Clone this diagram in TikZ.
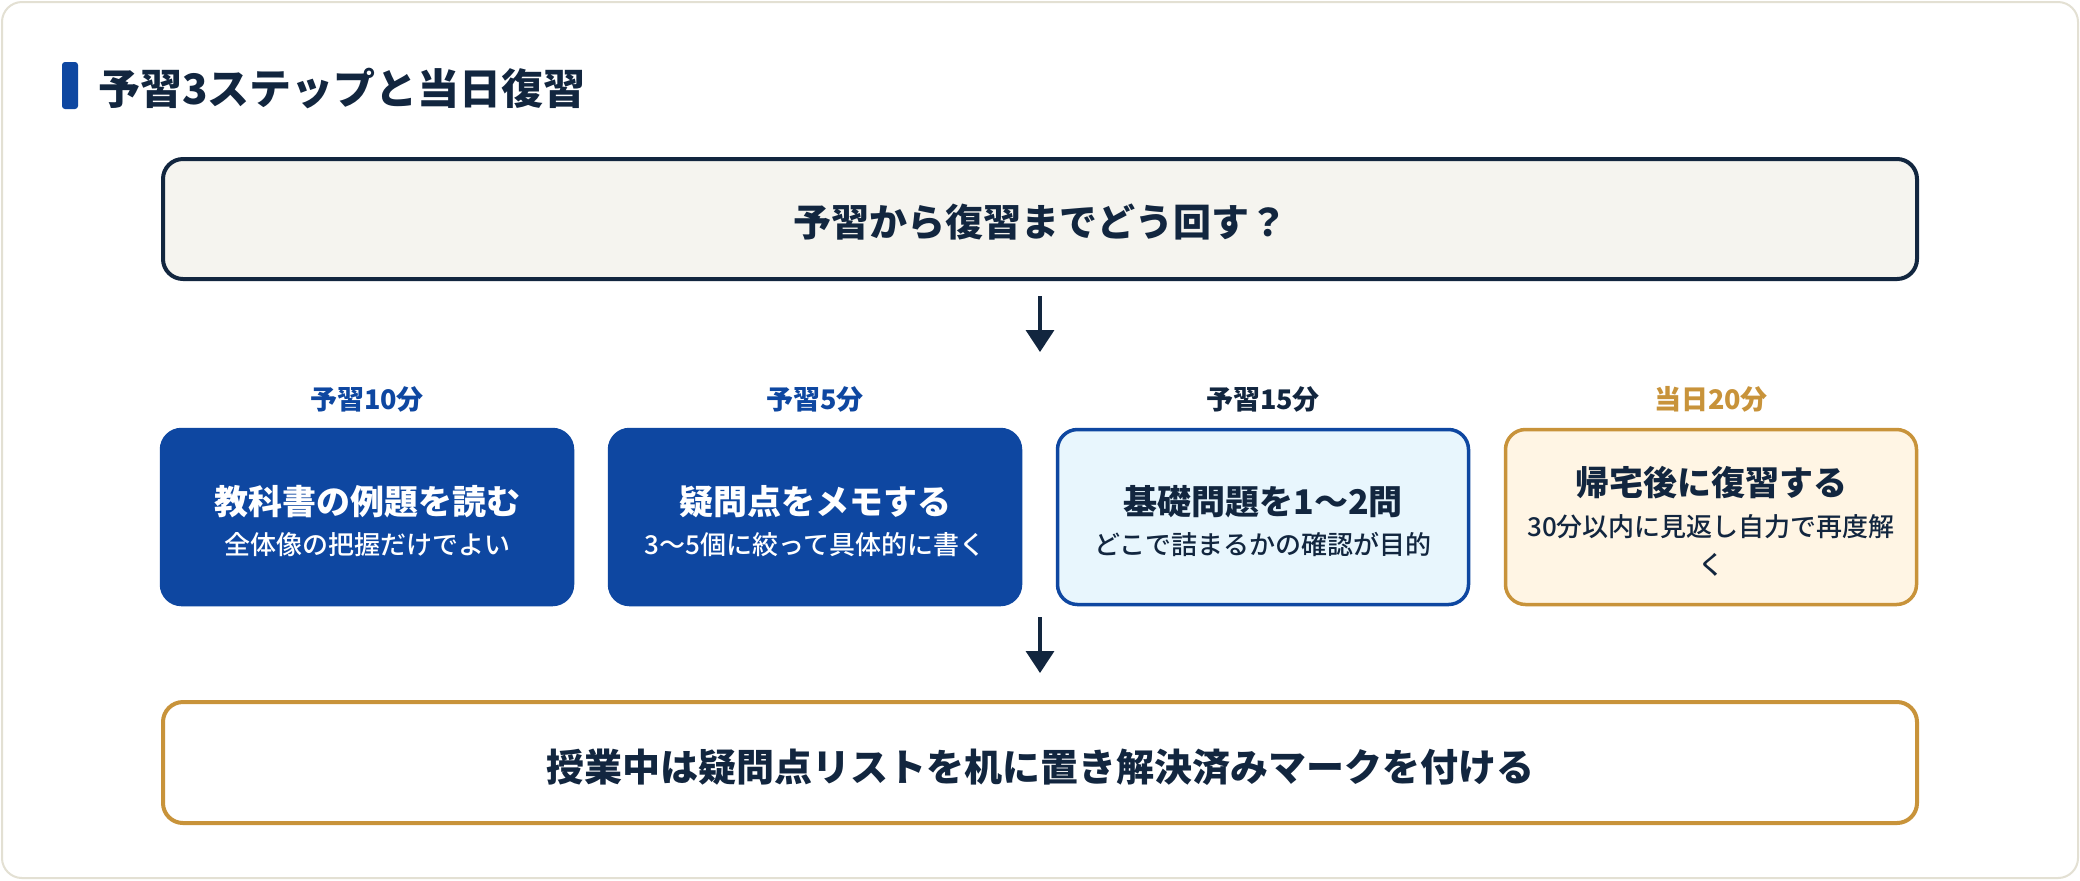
\documentclass[tikz,border=0pt]{standalone}
\usepackage{fontspec}
\setmainfont{Noto Sans CJK JP}
\IfFontExistsTF{Noto Sans CJK JP Medium}{\newfontfamily\subfont{Noto Sans CJK JP Medium}}{\newfontfamily\subfont{Noto Sans CJK JP}}
\usetikzlibrary{arrows.meta}
\definecolor{navy}{HTML}{12263F}
\definecolor{mblue}{HTML}{0E47A1}
\definecolor{gold}{HTML}{C8933A}
\definecolor{cream}{HTML}{FFF5E4}
\definecolor{lblue}{HTML}{E8F6FD}
\definecolor{topfill}{HTML}{F5F4EF}
\definecolor{cardline}{HTML}{E3E0D3}
\tikzset{
  x=0.5pt, y=-0.5pt,
  stepbox/.style={rounded corners=10pt, minimum width=205.5pt, minimum height=87.5pt, inner sep=0pt, line width=1.75pt},
  wide/.style={rounded corners=10pt, minimum width=877pt, inner sep=0pt, line width=2pt},
  big/.style={anchor=base, inner sep=0pt, font=\fontsize{19pt}{22pt}\selectfont\bfseries, text=navy},
  lbl/.style={anchor=base, inner sep=0pt, font=\fontsize{13.5pt}{16pt}\selectfont\bfseries},
  mainline/.style={anchor=base, inner sep=0pt, font=\fontsize{17pt}{20pt}\selectfont\bfseries},
  subline/.style={anchor=base, inner sep=0pt, font=\subfont\fontsize{13pt}{16pt}\selectfont},
  arr/.style={draw=navy, line width=1.75pt, -{Triangle[length=11pt,width=14pt]}}
}
\begin{document}
\begin{tikzpicture}
\useasboundingbox (0,0) rectangle (2080,880);
\fill[white] (0,0) rectangle (2080,880);
\draw[cardline, line width=1pt, fill=white, rounded corners=10pt] (2,2) rectangle (2078,878);
\fill[mblue, rounded corners=1.5pt] (62,62) rectangle (78,109);
\node[anchor=base west, inner sep=0pt, font=\fontsize{21pt}{25pt}\selectfont\bfseries, text=navy] (title) at (98,104) {予習3ステップと当日復習};

% question box
\node[wide, draw=navy, fill=topfill, minimum height=60pt] (q) at (1040,219) {};
\node[big] (qt) at (1040,236) {予習から復習までどう回す？};

% arrow 1
\coordinate (a1e) at (1040,352);
\draw[arr, shorten <=7.5pt] (q) -- (a1e);

% labels
\node[lbl, text=mblue] (l1) at (367,409) {予習10分};
\node[lbl, text=mblue] (l2) at (815,409) {予習5分};
\node[lbl, text=navy] (l3) at (1263,409) {予習15分};
\node[lbl, text=gold] (l4) at (1711,409) {当日20分};

% step boxes
\node[stepbox, draw=mblue, fill=mblue] (s1) at (367,517) {};
\node[stepbox, draw=mblue, fill=mblue] (s2) at (815,517) {};
\node[stepbox, draw=mblue, fill=lblue] (s3) at (1263,517) {};
\node[stepbox, draw=gold, fill=cream] (s4) at (1711,517) {};

\node[mainline, text=white] (m1) at (367,514) {教科書の例題を読む};
\node[subline, text=white] (t1) at (367,554) {全体像の把握だけでよい};
\node[mainline, text=white] (m2) at (815,514) {疑問点をメモする};
\node[subline, text=white] (t2) at (815,554) {3～5個に絞って具体的に書く};
\node[mainline, text=navy] (m3) at (1263,514) {基礎問題を1～2問};
\node[subline, text=navy] (t3) at (1263,554) {どこで詰まるかの確認が目的};
\node[mainline, text=navy] (m4) at (1711,495) {帰宅後に復習する};
\node[subline, text=navy] (t4) at (1711,536) {30分以内に見返し自力で再度解};
\node[subline, text=navy] (t4b) at (1711,574) {く};

% arrow 2
\coordinate (a2s) at (1040,617);
\node[wide, draw=gold, fill=white, minimum height=60.5pt] (b) at (1040,762.5) {};
\draw[arr, shorten >=13.5pt] (a2s) -- (b);
\node[big] (bt) at (1040,781) {授業中は疑問点リストを机に置き解決済みマークを付ける};
\end{tikzpicture}
\end{document}
